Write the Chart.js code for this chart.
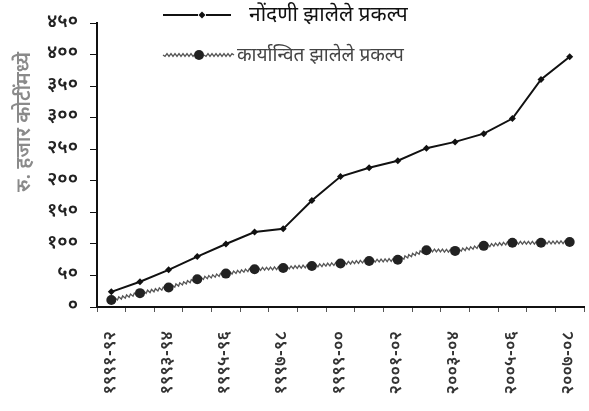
<!DOCTYPE html>
<html>
<head>
<meta charset="utf-8">
<script src="https://cdn.jsdelivr.net/npm/chart.js@4"></script>
<style>
  html, body { margin: 0; padding: 0; background: #fff; }
  #wrap { width: 589px; height: 411px; }
</style>
</head>
<body>
<div id="wrap"><canvas id="myChart" width="589" height="411"></canvas></div>
<script>
const years = ['१९९१-९२', '१९९२-९३', '१९९३-९४', '१९९४-९५', '१९९५-९६', '१९९६-९७', '१९९७-९८', '१९९८-९९',
    '१९९९-००', '२०००-०१', '२००१-०२', '२००२-०३', '२००३-०४', '२००४-०५', '२००५-०६', '२००६-०७', '२००७-०८'];
const nondani = [24, 40, 59, 80, 100, 119, 124, 169, 207, 221, 232, 252, 262, 275, 299, 361, 397];
const karyanvit = [11, 22, 31, 44, 53, 60, 62, 65, 69, 73, 75, 90, 89, 97, 102, 102, 103];
const yTicks = ['०', '५०', '१००', '१५०', '२००', '२५०', '३००', '३५०', '४००', '४५०'];
const seriesNames = ['नोंदणी झालेले प्रकल्प', 'कार्यान्वित झालेले प्रकल्प'];
const yTitle = 'रु. हजार कोटींमध्ये';

const devFont = "'Noto Sans Devanagari', 'Noto Serif Devanagari', 'Noto Sans', 'DejaVu Sans', sans-serif";

// wavy line for the second series, drawn under its points
function wavy(ctx, x1, y1, x2, y2, amp) {
    const dx = x2 - x1, dy = y2 - y1;
    const len = Math.sqrt(dx * dx + dy * dy);
    const ux = dx / len, uy = dy / len;
    const step = 2;
    ctx.moveTo(x1, y1);
    let k = 0;
    for (let d = step; d < len; d += step) {
        const off = (k % 2 === 0 ? amp : -amp);
        ctx.lineTo(x1 + ux * d - uy * off, y1 + uy * d + ux * off);
        k++;
    }
    ctx.lineTo(x2, y2);
}

const wavyLine = {
    id: 'wavyLine',
    beforeDatasetsDraw(chart) {
        const meta = chart.getDatasetMeta(1);
        const ctx = chart.ctx;
        ctx.save();
        ctx.strokeStyle = '#555';
        ctx.lineWidth = 1.3;
        ctx.beginPath();
        for (let i = 1; i < meta.data.length; i++) {
            const a = meta.data[i - 1], b = meta.data[i];
            wavy(ctx, a.x, a.y, b.x, b.y, 1.4);
        }
        ctx.stroke();
        ctx.restore();
    }
};

// legend (inside plot area) and rotated y title
const extras = {
    id: 'extras',
    afterDraw(chart) {
        const ctx = chart.ctx;
        ctx.save();
        // row 1
        ctx.strokeStyle = '#111';
        ctx.lineWidth = 2;
        ctx.beginPath();
        ctx.moveTo(163, 15); ctx.lineTo(198, 15);
        ctx.moveTo(206, 15); ctx.lineTo(231, 15);
        ctx.stroke();
        ctx.fillStyle = '#111';
        ctx.beginPath();
        ctx.moveTo(202, 11.5); ctx.lineTo(205.5, 15); ctx.lineTo(202, 18.5); ctx.lineTo(198.5, 15);
        ctx.closePath(); ctx.fill();
        ctx.font = '21px ' + devFont;
        ctx.textBaseline = 'alphabetic';
        ctx.fillText(seriesNames[0], 249, 21);
        // row 2
        ctx.strokeStyle = '#555';
        ctx.lineWidth = 1.3;
        ctx.beginPath();
        wavy(ctx, 163, 55, 194, 55, 1.4);
        wavy(ctx, 204, 55, 234, 55, 1.4);
        ctx.stroke();
        ctx.fillStyle = '#222';
        ctx.beginPath();
        ctx.arc(199, 55, 5, 0, Math.PI * 2);
        ctx.fill();
        ctx.fillStyle = '#444';
        ctx.font = '19px ' + devFont;
        ctx.fillText(seriesNames[1], 237, 61);
        // y title
        ctx.translate(30, 122);
        ctx.rotate(-Math.PI / 2);
        ctx.textAlign = 'center';
        ctx.fillStyle = '#8a8a8a';
        ctx.font = '600 20px ' + devFont;
        ctx.fillText(yTitle, 0, 0);
        ctx.restore();
    }
};

const ctx = document.getElementById('myChart').getContext('2d');
new Chart(ctx, {
    type: 'line',
    data: {
        labels: years,
        datasets: [
            {
                label: seriesNames[0],
                data: nondani,
                borderColor: '#111',
                borderWidth: 2,
                pointStyle: 'rectRot',
                pointRadius: 3.5,
                pointBackgroundColor: '#111',
                pointBorderWidth: 0,
                tension: 0
            },
            {
                label: seriesNames[1],
                data: karyanvit,
                showLine: false,
                pointRadius: 5,
                pointBackgroundColor: '#222',
                pointBorderWidth: 0
            }
        ]
    },
    options: {
        responsive: false,
        animation: false,
        layout: { padding: { top: 19, right: 0, bottom: 0, left: 0 } },
        plugins: {
            legend: { display: false },
            tooltip: { enabled: false }
        },
        scales: {
            x: {
                offset: true,
                grid: { offset: true, drawOnChartArea: false, tickLength: 5, color: '#555' },
                border: { color: '#111', width: 2 },
                ticks: {
                    autoSkip: false,
                    minRotation: 90,
                    maxRotation: 90,
                    padding: 19,
                    color: '#333',
                    font: { family: devFont, size: 17.5, weight: '600' },
                    callback: function (v, i) { return i % 2 === 0 ? years[i] : ''; }
                },
                afterFit: function (s) {
                    s.height = 104;
                    s.paddingLeft = 0;
                    s.paddingRight = 0;
                }
            },
            y: {
                min: 0,
                max: 450,
                ticks: {
                    stepSize: 50,
                    padding: 12,
                    color: '#222',
                    font: { family: devFont, size: 19, weight: '600' },
                    callback: function (v, i) { return yTicks[i]; }
                },
                grid: { drawOnChartArea: false, tickLength: 7, color: '#111' },
                border: { color: '#111', width: 2 },
                afterFit: function (s) { s.width = 97; }
            }
        }
    },
    plugins: [wavyLine, extras]
});
</script>
</body>
</html>
